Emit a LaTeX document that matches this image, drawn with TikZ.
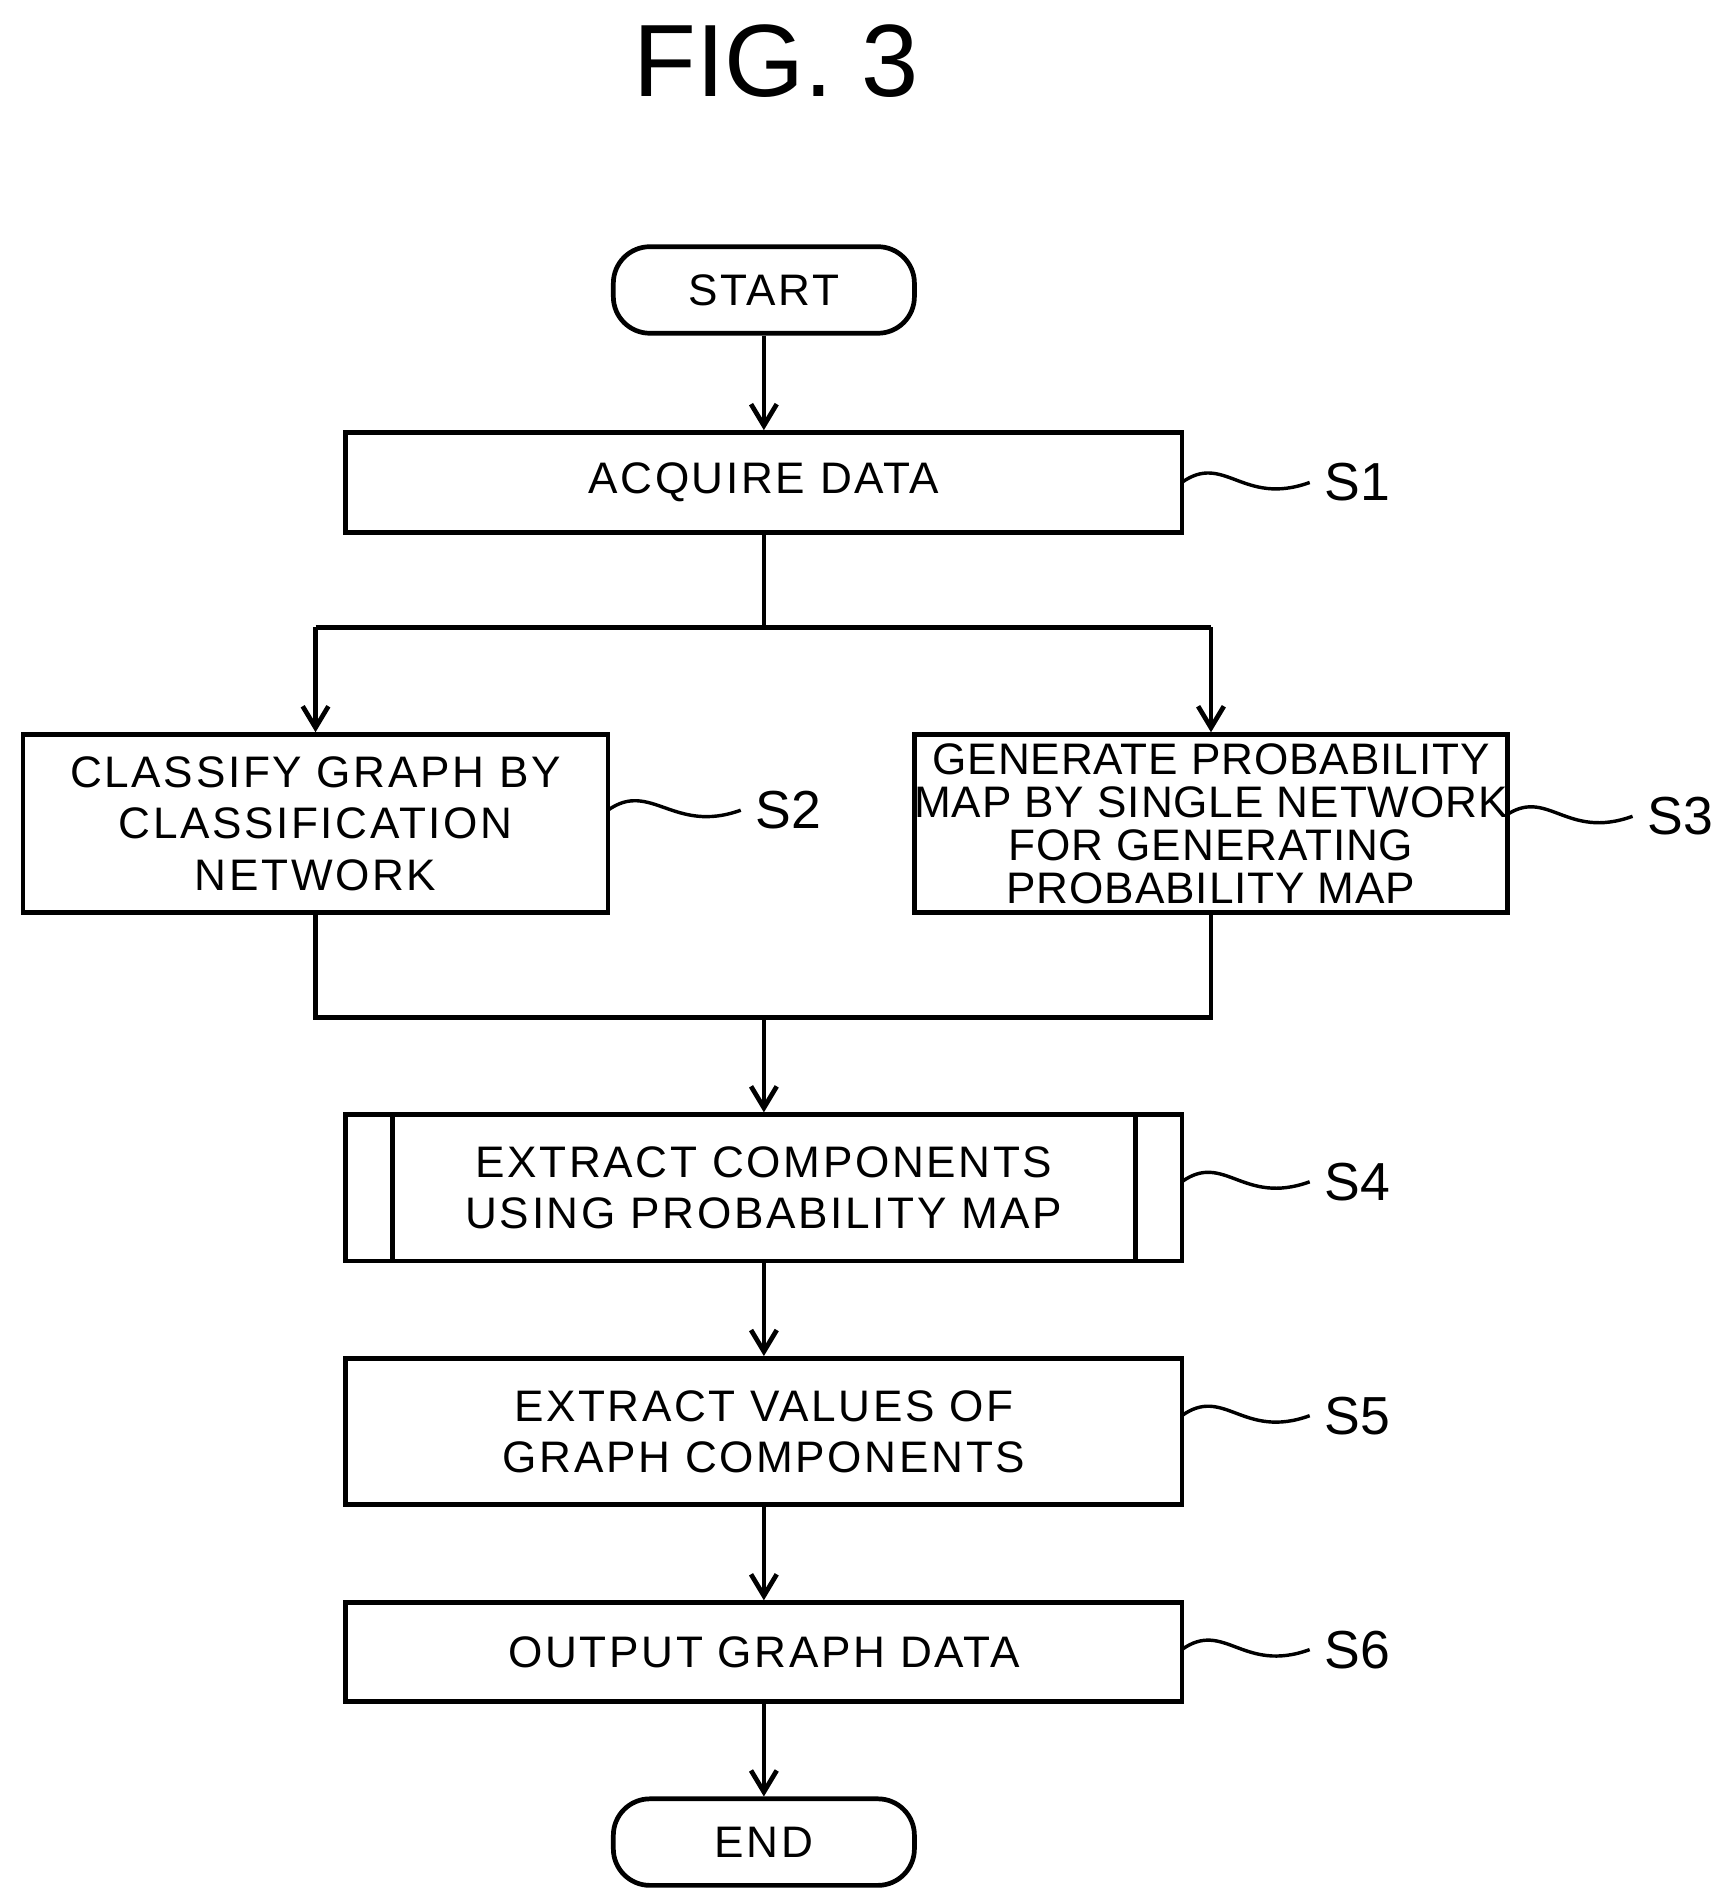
\documentclass[tikz,border=0pt]{standalone}
\usepackage{fontspec}
\setmainfont{Liberation Sans}
\usetikzlibrary{arrows.meta}
\begin{document}
\begin{tikzpicture}[x=0.01cm,y=-0.01cm,
  every node/.style={font=\fontsize{10.3}{12}\selectfont\addfontfeatures{LetterSpace=6}},
  box/.style={draw,line width=1.1pt,inner sep=0pt,align=center},
  term/.style={box,rounded corners=0.3cm,minimum width=2.47cm,minimum height=0.71cm},
  arr/.style={line width=1.1pt,-{Straight Barb[length=5pt,width=6pt]}},
  ln/.style={line width=1.1pt},
  lead/.style={line width=0.8pt},
  lab/.style={anchor=west,font=\fontsize{12.5}{12.5}\selectfont}]
\useasboundingbox (0,0) rectangle (1410,1562);
\node[font=\fontsize{24}{24}\selectfont] (title) at (637,50) {FIG. 3};
\node[term] (start) at (627,238) {START};
\node[box,minimum width=6.86cm,minimum height=0.82cm] (s1) at (627,396) {ACQUIRE DATA};
\node[box,minimum width=4.80cm,minimum height=1.46cm] (s2) at (259,676) {CLASSIFY GRAPH BY\\CLASSIFICATION\\NETWORK};
\node[box,minimum width=4.81cm,minimum height=1.46cm,font=\fontsize{10.3}{10}\selectfont\addfontfeatures{LetterSpace=2}] (s3) at (994,676) {GENERATE PROBABILITY\\MAP BY SINGLE NETWORK\\FOR GENERATING\\PROBABILITY MAP};
\node[box,minimum width=6.86cm,minimum height=1.20cm] (s4) at (627,975) {EXTRACT COMPONENTS\\USING PROBABILITY MAP};
\draw[ln] (322,915) -- (322,1035) (932,915) -- (932,1035);
\node[box,minimum width=6.86cm,minimum height=1.20cm] (s5) at (627,1175) {EXTRACT VALUES OF\\GRAPH COMPONENTS};
\node[box,minimum width=6.86cm,minimum height=0.81cm] (s6) at (627,1356) {OUTPUT GRAPH DATA};
\node[term] (end) at (627,1512) {END};
\coordinate (sp) at (627,515);
\coordinate (spl) at (259,515);
\coordinate (spr) at (994,515);
\coordinate (ml) at (259,835);
\coordinate (mr) at (994,835);
\coordinate (mm) at (627,835);
\draw[arr] (start) -- (s1);
\draw[ln] (s1) -- (sp) (spl) -- (spr);
\draw[arr] (spl) -- (s2);
\draw[arr] (spr) -- (s3);
\draw[ln] (s2.south) -- (ml) -- (mr) -- (s3.south);
\draw[arr] (mm) -- (s4);
\draw[arr] (s4) -- (s5);
\draw[arr] (s5) -- (s6);
\draw[arr] (s6) -- (end);
\foreach \n/\x/\y/\l/\t in {s1/970/396/1075/S1, s2/499/665/608/S2, s3/1235/670/1340/S3, s4/970/970/1075/S4, s5/970/1162/1075/S5, s6/970/1354/1075/S6}{
  \draw[lead] (\x,\y) .. controls (\x+35,\y-25) and (\l-55,\y+20) .. (\l,\y);
  \node[lab] (lab\t) at (\l,\y) {\t};
}
\end{tikzpicture}
\end{document}
